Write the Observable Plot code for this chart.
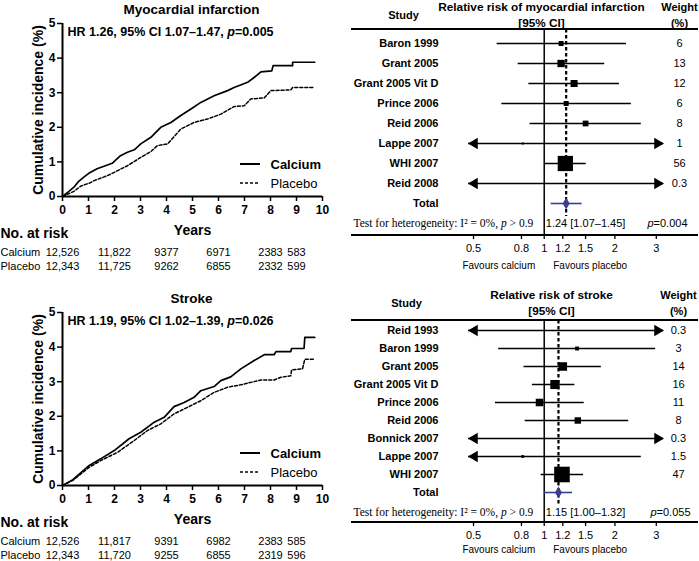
<!DOCTYPE html>
<html><head><meta charset="utf-8">
<script src="https://cdn.jsdelivr.net/npm/d3@7"></script>
<script src="https://cdn.jsdelivr.net/npm/@observablehq/plot@0.6"></script>
<style>
body{margin:0;background:#fff;}
#root{position:relative;width:699px;height:561px;overflow:hidden;background:#fff;}
.panel{position:absolute;}
.panel svg{display:block;overflow:visible;}
</style></head><body><div id="root"></div>
<script>
// ---------- Kaplan–Meier data (years, cumulative incidence %) ----------
const miCalciumT = [0, 0.2, 0.44, 0.6, 0.82, 1.01, 1.33, 1.65, 1.91, 2.23, 2.5, 2.76, 3.01, 3.4, 3.78, 4.17, 4.55, 4.94, 5.32, 5.83, 6.35, 6.6, 7.12, 7.37, 7.63, 8.05, 8.1, 8.85, 8.85, 9.7];
const miCalciumV = [0, 0.12, 0.27, 0.42, 0.56, 0.67, 0.8, 0.89, 0.96, 1.18, 1.28, 1.35, 1.52, 1.71, 2.0, 2.14, 2.34, 2.53, 2.72, 2.91, 3.06, 3.15, 3.3, 3.44, 3.6, 3.63, 3.78, 3.78, 3.88, 3.88];
const miPlaceboT = [0, 0.44, 0.7, 1.08, 1.22, 1.72, 1.86, 2.5, 3.01, 3.4, 3.65, 4.04, 4.55, 5.06, 5.58, 6.09, 6.6, 6.99, 7.24, 7.76, 8.01, 8.78, 8.85, 9.7];
const miPlaceboV = [0, 0.15, 0.3, 0.4, 0.46, 0.6, 0.65, 0.89, 1.13, 1.3, 1.47, 1.52, 1.95, 2.14, 2.24, 2.38, 2.6, 2.62, 2.82, 2.85, 3.06, 3.08, 3.15, 3.15];
const stCalciumT = [0, 0.4, 1.03, 1.47, 1.99, 2.56, 3.01, 3.53, 3.91, 4.29, 4.68, 5.06, 5.32, 5.83, 6.09, 6.47, 6.86, 7.37, 7.76, 8.14, 8.21, 8.78, 8.81, 9.29, 9.32, 9.7];
const stCalciumV = [0, 0.17, 0.58, 0.77, 1.01, 1.35, 1.54, 1.83, 1.97, 2.28, 2.4, 2.55, 2.74, 2.86, 3.03, 3.14, 3.37, 3.61, 3.78, 3.78, 3.87, 3.87, 3.96, 3.96, 4.28, 4.28];
const stPlaceboT = [0, 0.4, 1.03, 1.47, 2.12, 2.76, 3.27, 3.78, 4.29, 4.81, 5.32, 5.83, 6.35, 6.86, 7.63, 8.14, 8.4, 8.78, 8.81, 9.23, 9.32, 9.7];
const stPlaceboV = [0, 0.15, 0.53, 0.72, 0.96, 1.3, 1.59, 1.78, 2.07, 2.26, 2.45, 2.69, 2.84, 2.91, 3.05, 3.05, 3.13, 3.17, 3.34, 3.37, 3.65, 3.65];

const kmXTicks = [0,1,2,3,4,5,6,7,8,9,10];
const kmYTicks = [0,1,2,3,4,5];
const riskYears = [0, 2, 4, 6, 8, 9];
const miRiskCalcium = ["12,526","11,822","9377","6971","2383","583"];
const miRiskPlacebo = ["12,343","11,725","9262","6855","2332","599"];
const stRiskCalcium = ["12,526","11,817","9391","6982","2383","585"];
const stRiskPlacebo = ["12,343","11,720","9255","6855","2319","596"];

// ---------- Forest plot data ----------
const miStudies = ["Baron 1999","Grant 2005","Grant 2005 Vit D","Prince 2006","Reid 2006","Lappe 2007","WHI 2007","Reid 2008"];
const miEst    = [1.18, 1.18, 1.34, 1.24, 1.50, 0.81, 1.23, null];
const miLo     = [0.63, 0.775, 0.86, 0.66, 0.87, 0.13, 1.01, 0.03];
const miHi     = [2.24, 1.81, 2.09, 2.35, 2.59, 5.0, 1.51, 8.0];
const miWeight = [6, 13, 12, 6, 8, 1, 56, 0.3];
const miTotal  = [1.24, 1.07, 1.45];

const stStudies = ["Reid 1993","Baron 1999","Grant 2005","Grant 2005 Vit D","Prince 2006","Reid 2006","Bonnick 2007","Lappe 2007","WHI 2007"];
const stEst    = [1.98, 1.38, 1.20, 1.11, 0.955, 1.39, null, 0.81, 1.19];
const stLo     = [0.1, 0.64, 0.82, 0.89, 0.62, 0.83, 0.05, 0.15, 0.97];
const stHi     = [40, 2.98, 1.75, 1.35, 1.48, 2.29, 20, 2.59, 1.47];
const stWeight = [0.3, 3, 14, 16, 11, 8, 0.3, 1.5, 47];
const stTotal  = [1.15, 1.00, 1.32];

const forestTicks = [0.5, 0.8, 1, 1.2, 1.5, 2, 3];

const FONT = '"Liberation Sans", Arial, Helvetica, sans-serif';
const SERIF = '"Liberation Serif", "Times New Roman", serif';
const TOTAL_COLOR = "#3d3d8e";

function italicP(svg) {
  d3.select(svg).selectAll("text").each(function() {
    const t = this.textContent;
    const m = t.match(/(^|\s)p(?=\s?[=>])/);
    if (!m) return;
    const idx = m.index + m[1].length;
    const sel = d3.select(this);
    sel.text(null);
    sel.append("tspan").text(t.slice(0, idx));
    sel.append("tspan").attr("font-style", "italic").text("p");
    sel.append("tspan").text(t.slice(idx + 1));
  });
}

function place(svg, left, top, w, h) {
  const div = document.createElement("div");
  div.className = "panel";
  div.style.left = left + "px"; div.style.top = top + "px";
  div.style.width = w + "px"; div.style.height = h + "px";
  div.appendChild(svg);
  document.getElementById("root").appendChild(div);
}

const C = {textAnchor: "middle", lineAnchor: "middle"};

function kmPanel(o) {
  const W = 350, H = o.height, ml = 62, mr = 28, mt = o.mt, mb = H - mt - 173;
  const fb = H - mb;
  const at = (px, py) => ({frameAnchor: "top-left", dx: px - ml, dy: py - mt, ...C});
  const calc = o.calcT.map((t, i) => ({t, v: o.calcV[i]}));
  const plac = o.placT.map((t, i) => ({t, v: o.placV[i]}));
  const risk = riskYears.map((yr, i) => ({yr, c: o.riskC[i], p: o.riskP[i]}));
  const svg = Plot.plot({
    width: W, height: H, marginLeft: ml, marginRight: mr, marginTop: mt, marginBottom: mb,
    style: {fontFamily: FONT, fontSize: "12px", background: "white", color: "black", overflow: "visible"},
    x: {domain: [0, 10], axis: null},
    y: {domain: [0, 5], axis: null},
    marks: [
      Plot.axisX(kmXTicks, {tickSize: 5, tickPadding: 4, fontSize: 12, fontWeight: "bold", strokeWidth: 1.5, label: null}),
      Plot.axisY(kmYTicks, {tickSize: 5, tickPadding: 2, fontSize: 12, fontWeight: "bold", strokeWidth: 1.5, label: null}),
      Plot.ruleX([0], {strokeWidth: 2}),
      Plot.ruleY([0], {strokeWidth: 2}),
      Plot.line(plac, {x: "t", y: "v", strokeWidth: 1.5, strokeDasharray: "3,2"}),
      Plot.line(calc, {x: "t", y: "v", strokeWidth: 1.7}),
      Plot.text([o.title], {...at(191, mt - 14), fontSize: 13.5, fontWeight: "bold"}),
      Plot.text([o.hr], {...at(67, mt + 8), textAnchor: "start", fontSize: 12.5, fontWeight: "bold"}),
      Plot.text(["Cumulative incidence (%)"], {frameAnchor: "left", ...C, rotate: -90, dx: -24, fontSize: 14, fontWeight: "bold"}),
      Plot.text(["Years"], {frameAnchor: "bottom", ...C, dy: 34, fontSize: 14, fontWeight: "bold"}),
      Plot.text(["No. at risk"], {frameAnchor: "bottom-left", ...C, dx: -ml, dy: 37, textAnchor: "start", fontSize: 14, fontWeight: "bold"}),
      Plot.text(["Calcium"], {frameAnchor: "bottom-left", ...C, dx: -ml, dy: 56, textAnchor: "start", fontSize: 11}),
      Plot.text(["Placebo"], {frameAnchor: "bottom-left", ...C, dx: -ml, dy: 70, textAnchor: "start", fontSize: 11}),
      Plot.text(risk, {x: "yr", text: "c", frameAnchor: "bottom", ...C, dy: 56, fontSize: 11}),
      Plot.text(risk, {x: "yr", text: "p", frameAnchor: "bottom", ...C, dy: 70, fontSize: 11}),
      Plot.text(["Calcium"], {...at(270, fb - 32), textAnchor: "start", fontSize: 13, fontWeight: "bold"}),
      Plot.text(["Placebo"], {...at(270, fb - 13), textAnchor: "start", fontSize: 13})
    ]
  });
  const s = d3.select(svg);
  s.append("line").attr("x1", 240).attr("x2", 260).attr("y1", fb - 32).attr("y2", fb - 32)
    .attr("stroke", "black").attr("stroke-width", 2);
  s.append("line").attr("x1", 240).attr("x2", 260).attr("y1", fb - 13).attr("y2", fb - 13)
    .attr("stroke", "black").attr("stroke-width", 1.5).attr("stroke-dasharray", "3,2");
  italicP(svg);
  return svg;
}

function forestPanel(o) {
  const W = 349, H = o.height, ml = 118, mr = 36, mt = o.mt, mb = o.mb;
  const fb = H - mb, fh = H - mt - mb;
  const dom = [0.476, 3.22];
  const at = (px, py) => ({frameAnchor: "top-left", dx: px - ml, dy: py - mt, ...C});
  const rows = o.studies.map((s, i) => ({s, est: o.est[i], lo: o.lo[i], hi: o.hi[i], w: o.w[i]}));
  rows.forEach(r => { r.x1 = Math.max(r.lo, dom[0]); r.x2 = Math.min(r.hi, dom[1]); });
  const total = [{s: "Total", est: o.total[0], lo: o.total[1], hi: o.total[2]}];
  const ydom = [...o.studies, "Total"];
  const fmt = (v) => v.toFixed(2);
  const svg = Plot.plot({
    width: W, height: H, marginLeft: ml, marginRight: mr, marginTop: mt, marginBottom: mb,
    style: {fontFamily: FONT, fontSize: "11px", background: "white", color: "black", overflow: "visible"},
    x: {type: "log", domain: dom, axis: null},
    y: {type: "point", domain: ydom, range: o.yRange, padding: 0, axis: null},
    r: {type: "sqrt", domain: [0, o.rMaxW], range: [0, o.rMax]},
    marks: [
      Plot.ruleX(forestTicks, {x: d => d, insetTop: fh, insetBottom: -4, strokeWidth: 1.3}),
      Plot.text(forestTicks, {x: d => d, text: d => String(d), frameAnchor: "bottom", ...C, dy: 13, fontSize: 11}),
      Plot.ruleX([1], {strokeWidth: 1.5}),
      Plot.ruleX([o.total[0]], {strokeWidth: 2.2, strokeDasharray: "3.5,2.5", insetBottom: o.dashInset}),
      Plot.ruleY(rows, {y: "s", x1: "x1", x2: "x2", strokeWidth: 1.3}),
      Plot.dot(rows.filter(r => r.lo < dom[0]), {x: () => dom[0], y: "s", symbol: "triangle", rotate: -90, r: 4.2, fill: "black", stroke: "none", dx: 6}),
      Plot.dot(rows.filter(r => r.hi > dom[1]), {x: () => dom[1], y: "s", symbol: "triangle", rotate: 90, r: 4.2, fill: "black", stroke: "none", dx: -6}),
      Plot.dot(rows.filter(r => r.est != null), {x: "est", y: "s", r: "w", symbol: "square", fill: "black", stroke: "none"}),
      Plot.ruleY(total, {y: "s", x1: "lo", x2: "hi", stroke: TOTAL_COLOR, strokeWidth: 1.6}),
      Plot.dot(total, {x: "est", y: "s", symbol: "diamond", r: 3.6, fill: TOTAL_COLOR, stroke: "none"}),
      Plot.text([...rows, ...total], {y: "s", text: "s", frameAnchor: "left", ...C, textAnchor: "end", dx: 88 - ml, fontSize: 11, fontWeight: "bold"}),
      Plot.text(rows, {y: "s", text: "w", frameAnchor: "right", ...C, dx: o.wx - (W - mr), fontSize: 11}),
      Plot.text(["Study"], {...at(o.studyX, o.studyY), fontSize: 11, fontWeight: "bold"}),
      Plot.text([o.header], {...at(o.headX, o.headY), fontSize: 11.8, fontWeight: "bold"}),
      Plot.text(["[95% CI]"], {...at(o.headX, o.headY + 16), fontSize: 11.8, fontWeight: "bold"}),
      Plot.text(["Weight"], {...at(o.wx, o.headY), fontSize: 11, fontWeight: "bold"}),
      Plot.text(["(%)"], {...at(o.wx, o.headY + 16), fontSize: 11, fontWeight: "bold"}),
      Plot.text(["Test for heterogeneity: I² = 0%, p > 0.9"], {frameAnchor: "bottom-left", ...C, dx: 3 - ml, dy: o.hetDy, textAnchor: "start", fontFamily: SERIF, fontSize: 11.5}),
      Plot.text(total, {x: 1.5, text: d => `${fmt(d.est)} [${fmt(d.lo)}–${fmt(d.hi)}]`, frameAnchor: "bottom", ...C, dy: o.hetDy, fontSize: 11}),
      Plot.text([o.p], {frameAnchor: "bottom-right", ...C, dx: o.pRight - (W - mr), dy: o.hetDy, textAnchor: "end", fontSize: 11}),
      Plot.text(["Favours calcium"], {x: 1, frameAnchor: "bottom", ...C, dy: o.favDy, dx: -9, textAnchor: "end", fontSize: 10}),
      Plot.text(["Favours placebo"], {x: 1, frameAnchor: "bottom", ...C, dy: o.favDy, dx: 9, textAnchor: "start", fontSize: 10})
    ]
  });
  const s = d3.select(svg);
  [mt, fb].forEach(y => s.append("line").attr("x1", 1).attr("x2", 348).attr("y1", y).attr("y2", y)
    .attr("stroke", "black").attr("stroke-width", 2));
  italicP(svg);
  return svg;
}

place(kmPanel({height: 280, mt: 23, title: "Myocardial infarction", hr: "HR 1.26, 95% CI 1.07–1.47, p=0.005",
  calcT: miCalciumT, calcV: miCalciumV, placT: miPlaceboT, placV: miPlaceboV, riskC: miRiskCalcium, riskP: miRiskPlacebo}), 0, 0, 350, 280);
place(kmPanel({height: 281, mt: 32, title: "Stroke", hr: "HR 1.19, 95% CI 1.02–1.39, p=0.026",
  calcT: stCalciumT, calcV: stCalciumV, placT: stPlaceboT, placV: stPlaceboV, riskC: stRiskCalcium, riskP: stRiskPlacebo}), 0, 280, 350, 281);
place(forestPanel({height: 280, mt: 29, mb: 45, yRange: [42, 204], studies: miStudies, est: miEst, lo: miLo, hi: miHi, w: miWeight,
  total: miTotal, p: "p=0.004", header: "Relative risk of myocardial infarction", headX: 191, headY: 7, studyX: 53, studyY: 15,
  wx: 329, pRight: 337, hetDy: -12, favDy: 30, dashInset: 19, rMaxW: 56, rMax: 8.6}), 350, 0, 349, 280);
place(forestPanel({height: 281, mt: 40, mb: 39, yRange: [48, 214], studies: stStudies, est: stEst, lo: stLo, hi: stHi, w: stWeight,
  total: stTotal, p: "p=0.055", header: "Relative risk of stroke", headX: 201, headY: 15, studyX: 56, studyY: 23,
  wx: 328, pRight: 340, hetDy: -10, favDy: 27, dashInset: 17, rMaxW: 47, rMax: 8.8}), 350, 280, 349, 281);
</script></body></html>
